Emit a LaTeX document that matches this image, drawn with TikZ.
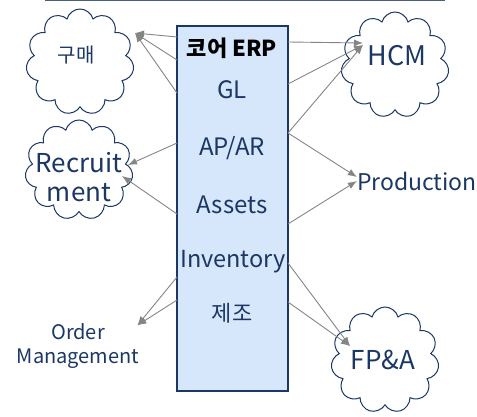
\documentclass[tikz,border=0pt]{standalone}
\usepackage{fontspec}
\setmainfont{Noto Sans CJK KR}
\usetikzlibrary{shapes.symbols,arrows.meta,calc}
\definecolor{navy}{HTML}{1B3763}
\definecolor{boxblue}{HTML}{D6E6FB}
\definecolor{arrowgray}{HTML}{858585}

\begin{document}
\begin{tikzpicture}[x=1pt,y=-1pt,
    puff/.style={cloud, cloud puffs=11, aspect=1, draw=navy, line width=1pt,
                 minimum width=108pt, minimum height=106pt, inner sep=0pt},
    lbl/.style={text=navy, font=\fontsize{24}{26}\selectfont, inner sep=0pt},
    arr/.style={draw=arrowgray, line width=0.9pt,
                -{Latex[length=9pt,width=7pt]}}]
    \useasboundingbox (0,0) rectangle (477,417);

    % Top rule
    \draw[navy!80, line width=1.5pt] (45,0.75) -- (445,0.75);

    % Main box
    \node[draw=navy, fill=boxblue, line width=2pt, minimum width=111pt,
          minimum height=365pt, inner sep=0pt] (erp) at (232.5,208.5) {};

    % Box entries
    \node[font=\bfseries\fontsize{22}{24}\selectfont, inner sep=0pt] (core) at (232,48) {코어 ERP};
    \node[lbl] (gl) at (232,90) {GL};
    \node[lbl] (apar) at (232,148) {AP/AR};
    \node[lbl] (assets) at (232,205) {Assets};
    \node[lbl, font=\fontsize{23.5}{26}\selectfont] (inv) at (233,262) {Inventory};
    \node[lbl, font=\fontsize{22}{24}\selectfont] (mfg) at (232,313) {제조};

    % Clouds
    \node[puff] (gumae) at (80,62) {};
    \node[puff, minimum height=100pt] (recruit) at (79,170) {};
    \node[puff] (hcm) at (395,65) {};
    \node[puff] (fpa) at (385,360) {};

    % Cloud and plain labels
    \node[lbl, font=\fontsize{20}{22}\selectfont] (gumaeText) at (76,55) {구매};
    \node[lbl, align=center, font=\fontsize{26}{29}\selectfont] (recruitText) at (79,177) {Recruit\\ment};
    \node[lbl, font=\fontsize{27}{29}\selectfont] (hcmText) at (397,56) {HCM};
    \node[lbl, font=\fontsize{26}{29}\selectfont] (fpaText) at (383,360) {FP\&A};
    \node[lbl, font=\fontsize{23}{24}\selectfont] (prod) at (417,181) {Production};
    \node[lbl, align=center, font=\fontsize{20}{24}\selectfont] (order) at (78,346) {Order\\Management};

    % Coordinates on the box edges
    \coordinate (L1) at (177,37);
    \coordinate (L2) at (177,60);
    \coordinate (L3) at (177,93);
    \coordinate (L4) at (177,143);
    \coordinate (L5) at (177,214);
    \coordinate (L6) at (177,277);
    \coordinate (L7) at (177,300);
    \coordinate (R1) at (288,42);
    \coordinate (R2) at (288,84);
    \coordinate (R3) at (288,133);
    \coordinate (R4) at (288,224);
    \coordinate (R5) at (288,263);
    \coordinate (R6) at (288,302);

    % Arrows to the left
    \draw[arr] (L1) -- ($(gumae)+(55,-29)$);
    \draw[arr] (L2) -- ($(gumae)+(55,-29)$);
    \draw[arr] (L3) -- ($(gumae)+(55,-29)$);
    \draw[arr] (L4) -- ($(recruit)+(49,-5)$);
    \draw[arr] (L5) -- ($(recruit)+(43,6)$);
    \draw[arr] (L6) -- ($(order.north east)+(-2,2)$);
    \draw[arr] (L7) -- ($(order.north east)+(-2,2)$);

    % Arrows to the right
    \draw[arr] (R1) -- ($(hcm)+(-32,-22)$);
    \draw[arr] (R2) -- ($(hcm)+(-32,-20)$);
    \draw[arr] (R3) -- ($(hcm)+(-32,-20)$);
    \draw[arr] (R3) -- ($(prod.west)+(0,-4)$);
    \draw[arr] (R4) -- (prod.west);
    \draw[arr] (R5) -- ($(fpa)+(-35,-14)$);
    \draw[arr] (R6) -- ($(fpa)+(-35,-14)$);

\end{tikzpicture}
\end{document}
